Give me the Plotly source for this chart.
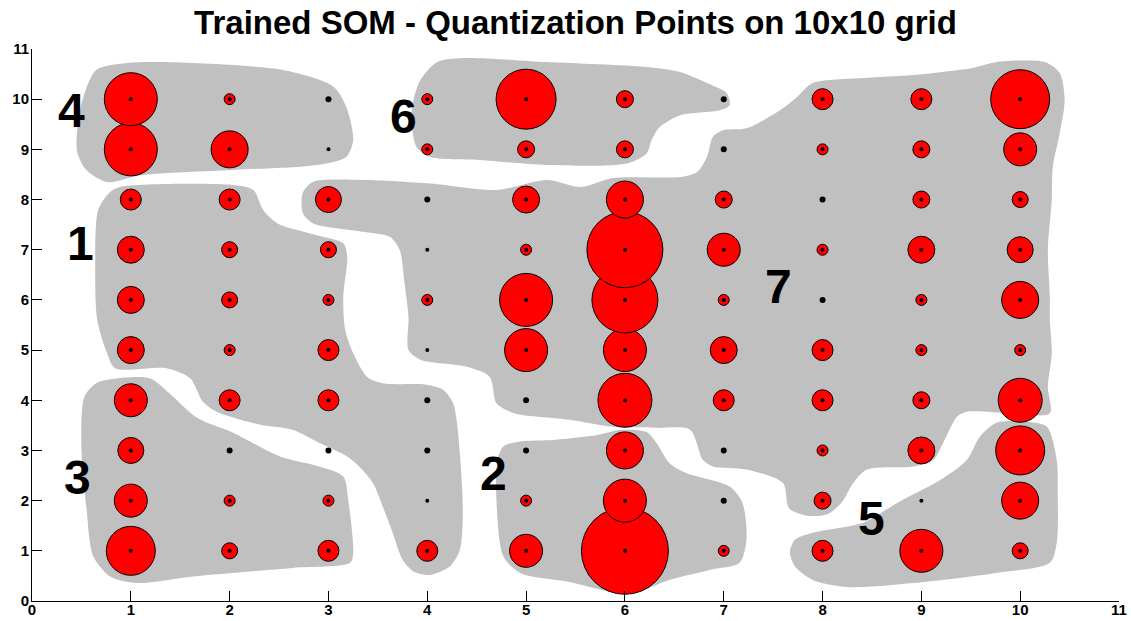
import plotly.graph_objects as go

# ---------------- data ----------------
grid_cols = [1, 2, 3, 4, 5, 6, 7, 8, 9, 10]
grid_rows = [10, 9, 8, 7, 6, 5, 4, 3, 2, 1]

# circle diameters (pixels) per grid cell; rows listed from y=10 down to y=1
# 6 = tiny unit (drawn as black dot), 0 = empty unit
row_10 = [53, 11, 6, 11, 60, 17, 6, 21, 21, 59]
row_9 = [53, 37, 0, 11, 17, 17, 6, 11, 17, 33]
row_8 = [21, 21, 26, 6, 27, 37, 17, 6, 17, 16]
row_7 = [27, 16, 16, 0, 11, 76, 33, 11, 27, 26]
row_6 = [27, 16, 11, 11, 53, 66, 11, 6, 11, 37]
row_5 = [27, 11, 21, 0, 43, 43, 27, 21, 11, 11]
row_4 = [33, 21, 21, 6, 6, 54, 21, 21, 17, 44]
row_3 = [26, 6, 6, 6, 6, 37, 6, 11, 27, 49]
row_2 = [33, 11, 11, 0, 11, 43, 6, 17, 0, 37]
row_1 = [49, 16, 21, 21, 33, 87, 11, 21, 43, 16]
diam_rows = [row_10, row_9, row_8, row_7, row_6, row_5, row_4, row_3, row_2, row_1]

# cluster regions (outline vertices in grid units)
region_1 = [(0.79, 8.15), (0.89, 8.25), (2.03, 8.29), (2.24, 8.19), (2.34, 7.79), (2.48, 7.53),
            (2.88, 7.29), (3.15, 7.13), (3.19, 6.86), (3.15, 6.06), (3.17, 5.40), (3.25, 4.94),
            (3.39, 4.47), (3.55, 4.34), (3.99, 4.31), (4.16, 4.21), (4.26, 3.95), (4.30, 3.55),
            (4.36, 1.88), (4.33, 1.02), (4.23, 0.69), (4.03, 0.52), (3.86, 0.59), (3.75, 0.82),
            (3.65, 1.36), (3.55, 1.88), (3.45, 2.35), (3.32, 2.66), (3.19, 2.88), (2.91, 3.15),
            (2.64, 3.41), (2.31, 3.51), (1.87, 3.77), (1.73, 3.97), (1.60, 4.44), (1.36, 4.64),
            (0.84, 4.64), (0.76, 4.94), (0.66, 5.60), (0.64, 6.73), (0.67, 7.79)]
region_2 = [(4.77, 3.08), (4.94, 3.18), (5.27, 3.21), (5.72, 3.31), (5.95, 3.41), (6.22, 3.37),
            (6.32, 3.15), (6.45, 2.75), (6.62, 2.55), (7.06, 2.28), (7.19, 1.95), (7.23, 1.22),
            (7.16, 0.76), (6.86, 0.62), (6.45, 0.42), (6.12, 0.18), (5.92, 0.16), (5.44, 0.38),
            (4.94, 0.56), (4.77, 0.89), (4.70, 2.02), (4.71, 2.81)]
region_3 = [(0.65, 4.34), (0.79, 4.42), (1.19, 4.44), (1.39, 4.14), (1.67, 3.65), (2.04, 3.35),
            (2.51, 2.88), (2.91, 2.68), (3.15, 2.48), (3.20, 2.02), (3.25, 0.96), (3.22, 0.76),
            (2.64, 0.66), (1.63, 0.49), (1.06, 0.36), (0.79, 0.49), (0.62, 0.89), (0.55, 1.88),
            (0.50, 3.07), (0.53, 4.07)]
region_4 = [(0.45, 9.18), (0.50, 9.90), (0.65, 10.58), (0.96, 10.72), (1.33, 10.74), (2.54, 10.58),
            (3.05, 10.25), (3.18, 9.85), (3.25, 9.18), (3.18, 8.85), (2.88, 8.69), (2.03, 8.59),
            (1.12, 8.49), (0.76, 8.35), (0.55, 8.59), (0.46, 8.92)]
region_5 = [(7.67, 0.98), (7.72, 1.22), (7.90, 1.36), (8.41, 1.56), (8.75, 1.95), (9.19, 2.41),
            (9.46, 2.81), (9.59, 3.27), (9.76, 3.55), (10.07, 3.57), (10.27, 3.47), (10.37, 2.81),
            (10.38, 2.15), (10.37, 1.16), (10.30, 0.76), (9.76, 0.56), (8.92, 0.36), (8.25, 0.28),
            (7.90, 0.42), (7.72, 0.69)]
region_6 = [(3.86, 9.98), (3.93, 10.38), (4.10, 10.74), (4.36, 10.82), (5.21, 10.74), (6.22, 10.64),
            (6.56, 10.54), (6.83, 10.32), (7.03, 10.12), (7.06, 9.88), (6.96, 9.78), (6.56, 9.68),
            (6.35, 9.44), (6.27, 9.18), (6.22, 8.92), (6.02, 8.72), (5.21, 8.69), (4.53, 8.79),
            (4.03, 8.85), (3.89, 9.05), (3.84, 9.65)]
region_7 = [(2.74, 8.13), (2.84, 8.35), (3.35, 8.39), (4.03, 8.32), (4.70, 8.19), (5.21, 8.39),
            (5.55, 8.25), (5.88, 8.43), (6.56, 8.45), (6.73, 8.55), (6.83, 8.85), (6.89, 9.25),
            (6.99, 9.38), (7.23, 9.42), (7.57, 9.78), (7.74, 10.04), (7.90, 10.32), (8.41, 10.42),
            (8.92, 10.48), (9.52, 10.62), (9.76, 10.74), (10.25, 10.74), (10.40, 10.52),
            (10.45, 9.98), (10.40, 9.32), (10.33, 8.65), (10.32, 7.99), (10.28, 7.00),
            (10.30, 6.06), (10.30, 5.60), (10.32, 4.94), (10.28, 4.27), (10.30, 3.74),
            (9.91, 3.74), (9.46, 3.77), (9.36, 3.67), (9.22, 3.15), (9.12, 2.81), (8.92, 2.68),
            (8.45, 2.62), (8.31, 2.35), (8.20, 1.98), (8.05, 1.73), (7.85, 1.70), (7.66, 1.85),
            (7.60, 2.35), (7.23, 2.62), (6.89, 2.68), (6.79, 2.81), (6.66, 3.41), (6.32, 3.45),
            (5.88, 3.47), (5.44, 3.61), (4.94, 3.71), (4.84, 3.77), (4.70, 3.94), (4.63, 4.47),
            (4.40, 4.67), (3.93, 4.81), (3.81, 5.00), (3.81, 5.66), (3.77, 6.33), (3.72, 7.00),
            (3.62, 7.26), (3.35, 7.36), (2.84, 7.53), (2.74, 7.73)]
regions = [region_1, region_2, region_3, region_4, region_5, region_6, region_7]

cluster_names = ["1", "2", "3", "4", "5", "6", "7"]
cluster_label_x = [0.49, 4.67, 0.46, 0.40, 8.50, 3.76, 7.55]
cluster_label_y = [7.13, 2.55, 2.46, 9.78, 1.64, 9.65, 6.26]

axis_ticks = list(range(0, 12))
title_text = "Trained SOM - Quantization Points on 10x10 grid"

# ---------------- figure ----------------
FONT = "Liberation Sans, Arial, sans-serif"
fig = go.Figure()

for reg in regions:
    xs = [p[0] for p in reg] + [reg[0][0]]
    ys = [p[1] for p in reg] + [reg[0][1]]
    fig.add_trace(go.Scatter(x=xs, y=ys, mode="lines", fill="toself",
                             fillcolor="#c0c0c0", line=dict(width=0, shape="spline", smoothing=0.8),
                             hoverinfo="skip"))

# points ordered column by column
cx, cy, cd = [], [], []
dx, dy, ds = [], [], []
for xi, col in enumerate(grid_cols):
    for yi in range(len(grid_rows) - 1, -1, -1):
        d = diam_rows[yi][xi]
        yv = grid_rows[yi]
        if d > 6:
            cx.append(col); cy.append(yv); cd.append(d)
            dx.append(col); dy.append(yv); ds.append(4)
        elif d == 6:
            dx.append(col); dy.append(yv); ds.append(6)
        else:
            dx.append(col); dy.append(yv); ds.append(4)

fig.add_trace(go.Scatter(x=cx, y=cy, mode="markers",
                         marker=dict(size=cd, color="#ff0000", opacity=1,
                                     line=dict(color="#000000", width=1)),
                         hoverinfo="skip"))
fig.add_trace(go.Scatter(x=dx, y=dy, mode="markers",
                         marker=dict(size=ds, color="#000000", opacity=1, line=dict(width=0)),
                         hoverinfo="skip"))

for name, lx, ly in zip(cluster_names, cluster_label_x, cluster_label_y):
    fig.add_annotation(x=lx, y=ly, text=name, showarrow=False,
                       font=dict(family=FONT, size=48, color="black", weight="bold"),
                       xanchor="center", yanchor="middle")

axis_common = dict(range=[0, 11], tickvals=axis_ticks, ticktext=[str(t) for t in axis_ticks],
                   ticks="inside", ticklen=10, tickcolor="black", tickwidth=1,
                   showline=True, linecolor="black", linewidth=1, mirror=False,
                   showgrid=False, zeroline=False, automargin=False,
                   tickfont=dict(family=FONT, size=15, color="black", weight="bold"))

fig.update_layout(
    width=1131, height=621,
    margin=dict(l=32, r=12, t=49, b=20),
    plot_bgcolor="white", paper_bgcolor="white",
    showlegend=False,
    xaxis=dict(axis_common, ticklabelstandoff=-5),
    yaxis=dict(axis_common, ticklabelstandoff=-1),
    title=dict(text=title_text, x=0.5, xref="paper", xanchor="center",
               y=1 - 22 / 621, yref="container", yanchor="middle",
               font=dict(family=FONT, size=33, color="black", weight="bold")),
)

fig.write_html("out.html")
